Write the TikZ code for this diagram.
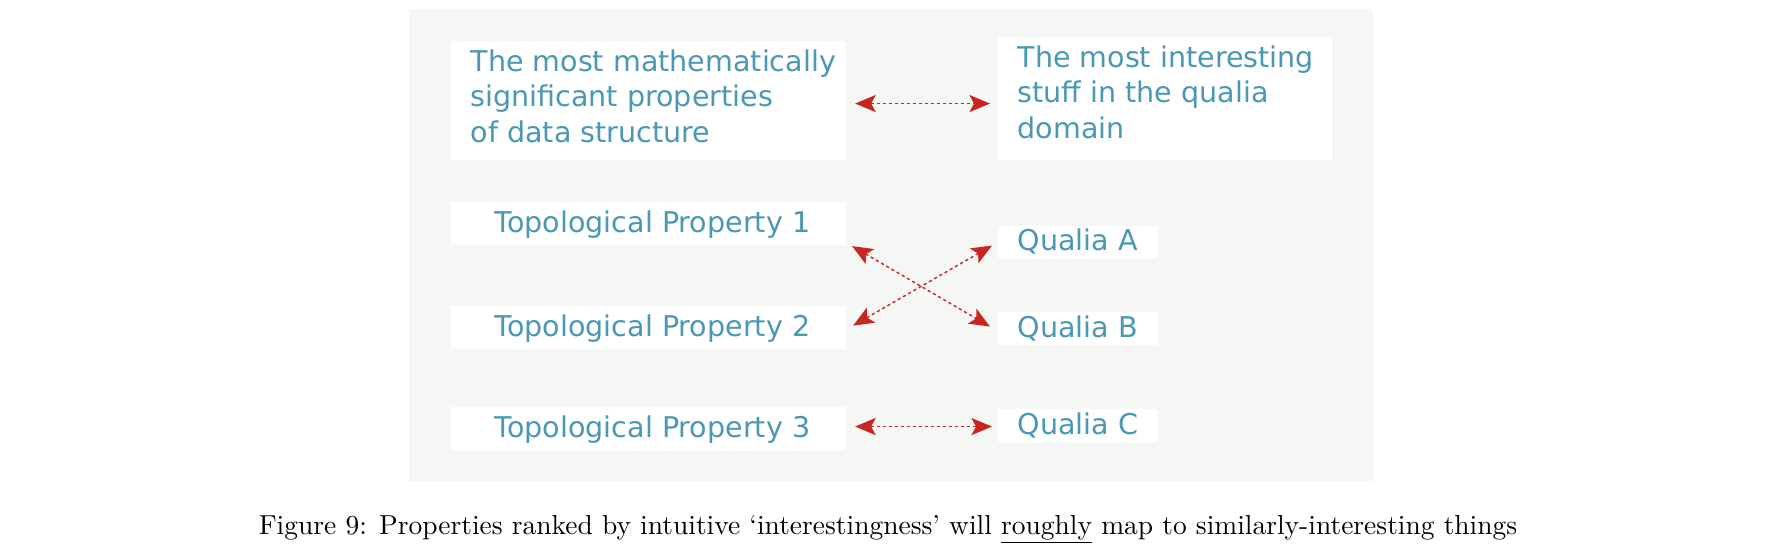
\documentclass[tikz,border=0pt]{standalone}
\usepackage{fontspec}
\newfontfamily\boxfont{DejaVu Sans}
\usetikzlibrary{arrows.meta}
\definecolor{panelbg}{RGB}{245,247,245}
\definecolor{tealtext}{RGB}{74,152,180}
\definecolor{arrowred}{RGB}{200,38,32}
\newcommand\capul[1]{\setbox0\hbox{#1}\rlap{\vrule height -2.4pt depth 2.85pt width \wd0}\box0\relax}
\tikzset{
  whitebox/.style={fill=white, draw=none, inner sep=0pt, anchor=north west},
  boxtext/.style={text=tealtext, font=\boxfont\fontsize{10}{12.5}\selectfont, inner sep=0pt, align=left, anchor=base west},
  conn/.style={draw=arrowred, line width=0.5pt, dash pattern=on 1.1pt off 1pt,
    {Stealth[length=7.2pt,width=6pt,inset=1.6pt]}-{Stealth[length=7.2pt,width=6pt,inset=1.6pt]}}
}
\begin{document}
\begin{tikzpicture}[x=0.35pt,y=-0.35pt]
\useasboundingbox (0,0) rectangle (1778,544);
\fill[panelbg] (409,9) rectangle (1373,481);
% boxes
\node[whitebox, minimum width={395*0.35pt}, minimum height={119*0.35pt}] (b1) at (450,40) {};
\node[whitebox, minimum width={334*0.35pt}, minimum height={123*0.35pt}] (b2) at (997,36) {};
\node[whitebox, minimum width={395*0.35pt}, minimum height={43*0.35pt}] (tp1) at (450,201) {};
\node[whitebox, minimum width={395*0.35pt}, minimum height={43*0.35pt}] (tp2) at (450,305) {};
\node[whitebox, minimum width={395*0.35pt}, minimum height={43*0.35pt}] (tp3) at (450,406) {};
\node[whitebox, minimum width={160*0.35pt}, minimum height={32*0.35pt}] (qa) at (997,225) {};
\node[whitebox, minimum width={160*0.35pt}, minimum height={33*0.35pt}] (qb) at (997,311) {};
\node[whitebox, minimum width={160*0.35pt}, minimum height={33*0.35pt}] (qc) at (997,408) {};
% texts
\node[boxtext, anchor=north west] (b1t) at (470,49) {The most mathematically\\significant properties\\of data structure};
\node[boxtext, anchor=north west] (b2t) at (1017,45) {The most interesting\\stuff in the qualia\\domain};
\node[boxtext] (tp1t) at (494,233) {Topological Property 1};
\node[boxtext] (tp2t) at (494,337) {Topological Property 2};
\node[boxtext] (tp3t) at (494,438) {Topological Property 3};
\node[boxtext] (qat) at (1017,251) {Qualia A};
\node[boxtext] (qbt) at (1017,338) {Qualia B};
\node[boxtext] (qct) at (1017,435) {Qualia C};
% connectors
\draw[conn] ([shift={(9,3.5)}]b1.east) -- ([shift={(-7,5.5)}]b2.west);
\draw[conn] ([shift={(6,1)}]tp1.south east) -- ([shift={(-7,-1.5)}]qb.west);
\draw[conn] ([shift={(7,-1.5)}]tp2.east) -- ([shift={(-5,4)}]qa.west);
\draw[conn] ([shift={(9,-1.5)}]tp3.east) -- ([shift={(-5,1.5)}]qc.west);
% caption
\node[anchor=base, inner sep=0pt, font=\fontsize{9.62}{11.5}\selectfont] (caption) at (888,535) {Figure 9: Properties ranked by intuitive `interestingness' will \capul{roughly} map to similarly-interesting things};
\end{tikzpicture}
\end{document}
